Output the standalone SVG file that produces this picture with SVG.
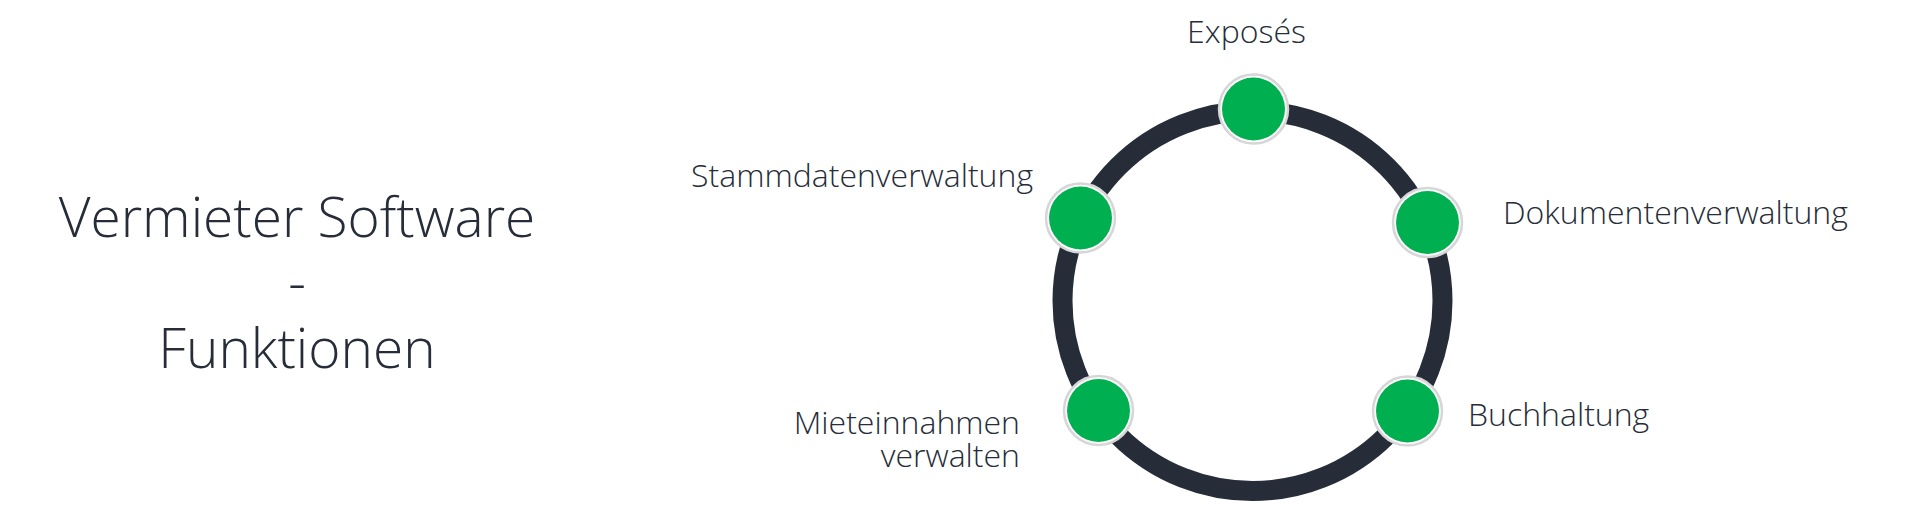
<svg xmlns="http://www.w3.org/2000/svg" width="1917" height="518" viewBox="0 0 1917 518">
<defs>
<style>
.t{font-family:"Open Sans","Liberation Sans",sans-serif;font-weight:300;fill:#262c38}
.lbl{font-size:32px}
.title{font-size:55px}
.halo{fill:#ffffff;stroke:#d6d6d6;stroke-width:2.5}
.dot{fill:#00b050}
</style>
</defs>
<rect width="1917" height="518" fill="#ffffff"/>
<g id="title">
<text class="t title" x="297" y="237" text-anchor="middle">Vermieter Software</text>
<text class="t title" x="297" y="302" text-anchor="middle">-</text>
<text class="t title" x="297" y="368" text-anchor="middle">Funktionen</text>
</g>
<g id="connectors">
<circle cx="1252.5" cy="301" r="190" fill="none" stroke="#262c38" stroke-width="20"/>
</g>
<g id="node-exposes">
<circle class="halo" cx="1253.5" cy="109" r="34.5"/>
<circle class="dot" cx="1253.5" cy="109" r="31.5"/>
<text class="t lbl" x="1246.5" y="43" text-anchor="middle">Exposés</text>
</g>
<g id="node-dokumente">
<circle class="halo" cx="1427.5" cy="222.5" r="34.5"/>
<circle class="dot" cx="1427.5" cy="222.5" r="31.5"/>
<text class="t lbl" x="1503" y="224">Dokumentenverwaltung</text>
</g>
<g id="node-buchhaltung">
<circle class="halo" cx="1407.5" cy="411" r="34.5"/>
<circle class="dot" cx="1407.5" cy="411" r="31.5"/>
<text class="t lbl" x="1468" y="426">Buchhaltung</text>
</g>
<g id="node-miete">
<circle class="halo" cx="1098.5" cy="410.5" r="34.5"/>
<circle class="dot" cx="1098.5" cy="410.5" r="31.5"/>
<text class="t lbl" x="1020" y="434" text-anchor="end">Mieteinnahmen</text>
<text class="t lbl" x="1020" y="467" text-anchor="end">verwalten</text>
</g>
<g id="node-stamm">
<circle class="halo" cx="1080.5" cy="218" r="34.5"/>
<circle class="dot" cx="1080.5" cy="218" r="31.5"/>
<text class="t lbl" x="1033" y="187" text-anchor="end">Stammdatenverwaltung</text>
</g>
</svg>
